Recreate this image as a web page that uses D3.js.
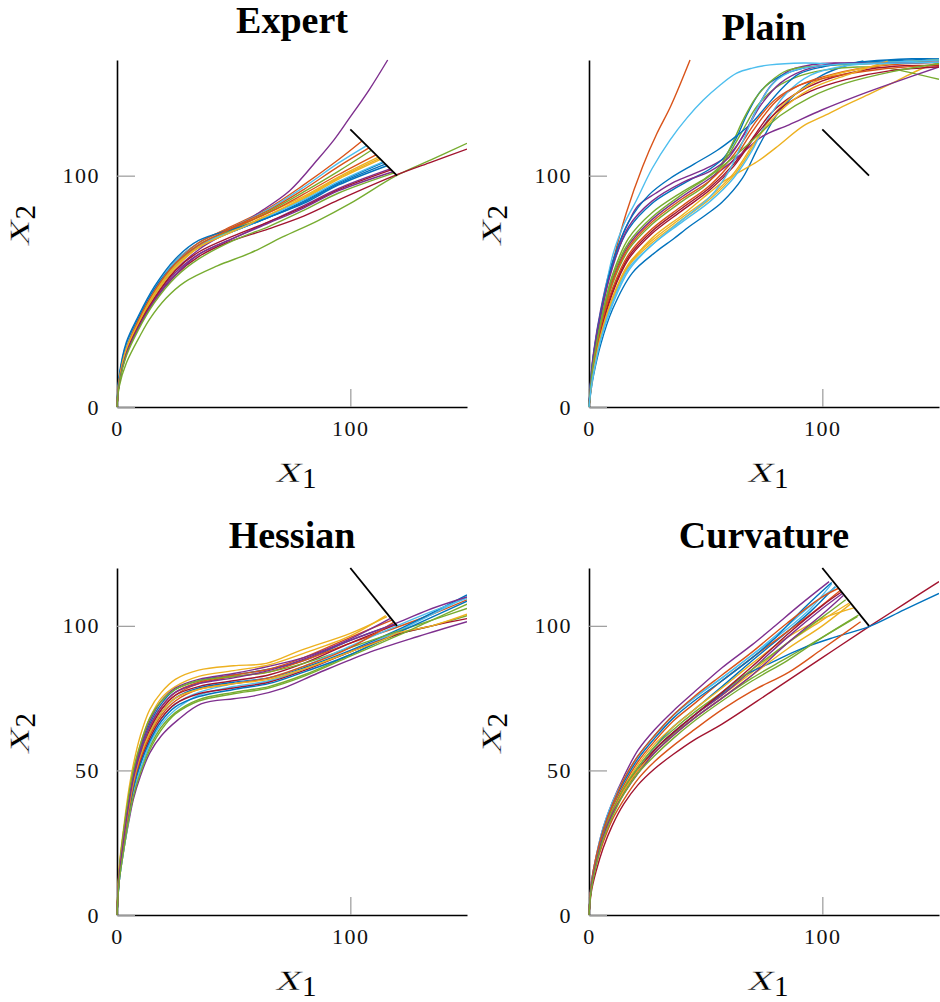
<!DOCTYPE html>
<html>
<head>
<meta charset="utf-8">
<script src="https://cdn.jsdelivr.net/npm/d3@7/dist/d3.min.js"></script>
<style>
  body { margin: 0; background: #fff; }
  text { font-family: "Liberation Serif", "Times New Roman", serif; }
</style>
</head>
<body>
<svg id="chart" width="940" height="1002"></svg>
<script>
// ---- data ----
var titles = ["Expert", "Plain", "Hessian", "Curvature"];
var xTicks = [0, 100];
var yTicksTop = [0, 100];
var yTicksBottom = [0, 50, 100];
var targetSegment = [[100, 120], [120, 100]];
var lineColors = ["#0072BD", "#D95319", "#EDB120", "#7E2F8E", "#77AC30", "#4DBEEE", "#A2142F"];

var expertRuns = [
  [[0,0],[1,12],[4,25],[9,36],[16,49],[25,61],[35,69],[50,76],[65,82],[80,89],[95,97],[114.3,105.7]],
  [[0,0],[1,13],[4,26],[9,37],[16,50],[25,63],[35,71],[50,78.5],[65,86],[80,96],[95,107],[105,115]],
  [[0,0],[1,12],[4,25],[9,36],[16,49],[25,61],[35,70],[50,77],[65,84],[80,91],[95,99.5],[112,108]],
  [[0,0],[1,11],[4,24],[9,35],[16,47],[25,59],[35,68],[43,73],[50,77],[60,83.5],[74,93.5],[86,107],[93,115.5],[99,124],[108,137],[116,150]],
  [[0,0],[1,9],[4,19],[10,31],[14,38],[21,47],[29,54],[43,61],[57,66.5],[71,73.5],[86,80.5],[100,88],[119.7,100],[135,107],[150,114]],
  [[0,0],[1,13],[4,27],[9,38],[16,51],[25,63],[35,71],[50,78],[65,85.5],[80,95],[95,105.5],[107,113]],
  [[0,0],[1,11],[4,23],[9,34],[16,46],[25,57],[35,65],[47,71],[65,77],[80,82.5],[95,89.5],[119.7,100.3],[135,106],[150,111.5]],
  [[0,0],[1,13],[4,27],[9,38],[16,51],[25,62],[35,70],[50,76],[65,82],[80,88],[95,96],[115.7,104.3]],
  [[0,0],[1,12],[4,26],[9,37],[16,50],[25,62],[35,71],[50,78],[65,85],[80,94],[95,104],[108,112]],
  [[0,0],[1,11],[4,24],[9,35],[16,48],[25,60],[35,69],[50,76.5],[65,83],[80,90],[95,98.5],[113,107]],
  [[0,0],[1,11],[4,23],[9,34],[16,46],[25,58],[35,66],[50,73],[65,80],[80,87],[95,94.5],[117.1,102.9]],
  [[0,0],[1,11],[4,24],[9,36],[16,49],[25,61],[35,70],[50,77],[65,84.5],[80,93],[95,102],[109,111]],
  [[0,0],[1,12],[4,26],[9,37],[16,50],[25,62],[35,70],[50,76],[65,82.5],[80,89.5],[95,97.5],[114,106]],
  [[0,0],[1,11],[4,24],[9,35],[16,47],[25,59],[35,67],[50,74],[65,80],[80,86.5],[95,94],[117.5,102.5]],
  [[0,0],[1,14],[4,28],[9,39],[16,52],[25,64],[35,72],[50,77],[65,82],[80,88.5],[95,96.5],[115,105]],
  [[0,0],[1,12],[4,25],[9,37],[16,50],[25,62],[35,70],[50,77.5],[65,84],[80,92],[95,100.5],[111,109]],
  [[0,0],[1,12],[4,25],[9,36],[16,49],[25,61],[35,69],[50,76],[65,83],[80,90.5],[95,99],[112.5,107.5]],
  [[0,0],[1,11],[4,23],[9,34],[16,46],[25,57],[35,66],[50,73],[65,79.5],[80,86],[95,93.5],[118.3,101.7]],
  [[0,0],[1,10],[4,22],[9,33],[16,45],[25,56],[35,64],[50,72],[65,78],[80,85],[95,92.5],[118.8,101.2]]
];

var plainRuns = [
  [[0,0],[1,8],[2,14],[5,27],[10,42],[18.6,58],[28.6,67],[36,72.5],[43,78],[50,83],[57,88.5],[65.7,98.8],[72.9,113],[81.4,127.6],[91.4,137.8],[100,143.5],[110,147.5],[117.6,149.6]],
  [[0,0],[1,13],[2,22],[5,40],[10.4,63.5],[16,84],[23,104],[29,118],[35,130],[43.3,150]],
  [[0,0],[1,10],[2,17],[5,31],[10,47],[17,61],[27,73],[40,83],[52,93],[57,97],[63.3,101],[72,106],[80,112],[91.9,121.5],[100,125.5],[110,130.5],[120.6,135.5],[132,141],[142,146],[150,149]],
  [[0,0],[1,15],[2,24],[5,42],[8.6,58],[12,68],[17,80],[21,87],[28.6,92.4],[36,97],[43,100],[52,104],[60,109],[66,117],[72,129],[78,139],[86,145.5],[100,148.5],[120,148.5],[150,150]],
  [[0,0],[1,11],[2,19],[5,34],[10,53],[17,68],[27,79],[40,89],[50,96],[58,106],[65,118],[72,130],[80,138],[90,143],[100,145.5],[115,147],[128.6,146.4],[140,144],[150,141.7]],
  [[0,0],[1,14],[2,23],[5,40],[10.4,66.4],[15,79],[20.4,89.5],[27,103],[34.7,115.4],[42,125],[49,132.7],[56,139],[63.3,144.3],[70,146.5],[77.6,147.9],[91.9,148.7],[106,148.4],[120,148.8],[134.7,149.6]],
  [[0,0],[1,10],[2,18],[5,33],[10,50],[17,65],[27,76],[40,86],[52,95],[62,105],[70,116],[78,127],[88,135],[100,141],[120,146],[135,147.5],[150,147.5]],
  [[0,0],[1,13],[2,22],[5,39],[10,61],[17,77],[27,88],[36,94],[43,98],[52,103],[58,108],[63,116],[68,127],[74,137],[82,143],[92,146.5],[105,148],[125,149.5],[150,150.5]],
  [[0,0],[1,11],[2,18],[5,34],[10,51],[17,66],[27,77],[40,87],[52,96],[62,107],[70,119],[80,132],[90,139],[105,144],[125,147.5],[150,149]],
  [[0,0],[1,9],[2,16],[5,30],[10,46],[17,61],[27,71],[40,81],[52,90],[62,100],[70,112],[78,125],[88,135],[100,142],[115,146],[130,148.5],[150,150]],
  [[0,0],[1,12],[2,20],[5,36],[10,55],[17,70],[27,81],[40,91],[52,99],[60,105],[66,110],[74.3,117],[85.7,122],[100,128.5],[115,134.5],[130,140],[150,147]],
  [[0,0],[1,12],[2,21],[5,37],[10,57],[17,73],[27,84],[40,93],[50,99],[56,104],[61,113],[66,124],[71,133],[77,140],[85,145.5],[100,147.5],[120,148.5],[150,150]],
  [[0,0],[1,9],[2,15],[5,29],[10,44],[17,59],[27,70],[40,80],[52,89],[62,99],[70,111],[77,125],[85,136],[95,143.5],[110,147.5],[130,149],[150,150]],
  [[0,0],[1,10],[2,17],[5,32],[10,49],[17,64],[27,75],[40,85],[52,94],[62,104],[72,118],[82,129],[95,136.5],[110,141.5],[130,145.5],[150,147]],
  [[0,0],[1,14],[2,23],[5,41],[10,62],[17,80],[25.7,91.7],[35,99],[45,105],[55,111],[63,117],[70,123],[76,130],[83,138],[90,144],[100,147],[120,149.5],[150,151]],
  [[0,0],[1,11],[2,19],[5,35],[10,54],[17,69],[27,80],[40,90],[52,98],[62,109],[72,124],[80,133],[90,139],[105,143],[125,146],[150,148]],
  [[0,0],[1,10],[2,16],[5,31],[10,47],[17,62],[27,72],[40,82],[52,91],[62,101],[72,116],[82,128],[95,137.5],[112,144],[128,149.5]],
  [[0,0],[1,14],[2,23],[5,40],[10,60],[17,78],[27,89],[40,97],[52,102],[60,108],[67,119],[74,131],[82,140],[92,145.5],[105,148.5],[125,148.5],[150,149]],
  [[0,0],[1,12],[2,20],[5,36],[10,56],[17,71],[27,82],[40,92],[52,100],[62,108],[72,117],[82,126],[95,134],[110,140],[130,145],[150,148.5]],
  [[0,0],[1,9],[2,15],[5,29],[10,45],[17,60],[27,70],[40,81],[52,91],[60,102],[66,115],[72,129],[79,140],[88,145.5],[105,148],[125,148.5],[150,149]]
];

var hessianRuns = [
  [[0,0],[1,15],[3,28],[5,39],[7,48],[10,57],[14,66],[19,73],[25,78],[35,81],[50,83],[65,85],[80,88],[100,95],[119,100.5]],
  [[0,0],[1,14],[3,27],[5,37],[7,46],[10,55],[14,64],[19,71],[25,76],[35,80],[50,82.5],[65,84],[80,88],[100,94],[120,99.5],[135,104],[150,109]],
  [[0,0],[1,17],[3,31],[5,43],[7,52],[10,62],[14,71],[19,77],[25,81.5],[35,84.7],[50,86.2],[64,87],[79,91.6],[100,97.4],[115.7,103.2]],
  [[0,0],[1,12],[3,23],[5,32],[7,40],[10,48],[14,56],[19,62],[26,67.4],[36,73],[50,74.8],[57,75.5],[71,78.4],[86,83.6],[107,90.5],[129,96.3],[150,101.4]],
  [[0,0],[1,13],[3,24],[5,34],[7,42],[10,50],[14,58],[19,65],[25,70],[35,74.5],[50,77],[65,79],[80,83],[100,90],[120,97],[135,100],[150,103.5]],
  [[0,0],[1,12],[3,23],[5,33],[7,42],[10,50],[14,59],[19,66],[25,71],[35,76],[50,79],[65,81],[80,85],[100,91],[120,98],[135,104],[150,110]],
  [[0,0],[1,14],[3,27],[5,37],[7,46],[10,55],[14,64],[19,71],[25,76],[35,79],[50,81],[65,83],[80,87],[100,94],[119.3,100.3]],
  [[0,0],[1,14],[3,26],[5,36],[7,45],[10,54],[14,63],[19,70],[25,75],[35,78.5],[50,80.5],[65,82],[80,85.5],[100,91.5],[120,98.5],[135,104.5],[150,110.7]],
  [[0,0],[1,15],[3,28],[5,38],[7,47],[10,56],[14,65],[19,72],[25,77],[35,80.5],[50,83],[65,85],[80,89],[100,96],[117.8,102]],
  [[0,0],[1,16],[3,30],[5,41],[7,50],[10,59],[14,68],[19,75],[25,79],[35,82.5],[50,84.5],[65,86.5],[80,90.5],[100,96.5],[115.2,103.5]],
  [[0,0],[1,15],[3,29],[5,40],[7,49],[10,58],[14,67],[19,74],[25,78.5],[35,81.5],[50,83.5],[65,86],[80,89],[100,95.5],[117,102.5]],
  [[0,0],[1,16],[3,30],[5,41],[7,50],[10,59],[14,68],[19,74],[25,78],[35,81],[50,82.5],[65,84],[80,87],[100,92.5],[120,98],[135,102],[150,106]],
  [[0,0],[1,12],[3,24],[5,34],[7,43],[10,52],[14,61],[19,68],[25,73],[35,77],[50,80],[65,82],[80,86],[100,93],[120,100],[135,105],[150,109.5]],
  [[0,0],[1,13],[3,25],[5,35],[7,44],[10,53],[14,61],[19,68],[25,73],[35,76.5],[50,78.5],[65,80.5],[80,84.5],[100,91],[120,97],[135,100],[150,102.5]],
  [[0,0],[1,13],[3,25],[5,35],[7,44],[10,52],[14,60],[19,67],[25,72],[35,75.5],[50,78],[65,80],[80,84],[100,90],[120,97.5],[135,103],[150,108.5]],
  [[0,0],[1,14],[3,26],[5,36],[7,45],[10,54],[14,62],[19,69],[25,74],[35,78],[50,80],[65,82],[80,86],[100,92.5],[118.5,101.2]],
  [[0,0],[1,14],[3,27],[5,37],[7,46],[10,55],[14,63],[19,70],[25,75],[35,78],[50,80],[65,81.5],[80,85],[100,91],[115,95.5],[120,97.5],[135,100],[150,104]],
  [[0,0],[1,14],[3,27],[5,38],[7,47],[10,56],[14,65],[19,72],[25,77],[35,80],[50,82],[65,84.5],[80,88.5],[100,95],[120,101],[135,106],[150,110]],
  [[0,0],[1,12],[3,23],[5,33],[7,41],[10,49],[14,57],[19,64],[25,69.5],[35,74],[50,76.5],[65,78.5],[80,82.5],[100,89.5],[120,96.5],[135,102],[150,107.5]]
];

var curvatureRuns = [
  [[0,0],[1,10],[3,18],[6,27],[10,35],[15,43],[21,51],[28,58],[36,65],[45,71],[57,79],[70,88],[85,98],[95,105],[105.5,113.5]],
  [[0,0],[1,10],[3,19],[6,28],[10,37],[15,45],[21,53],[28,60],[36,67],[45,73],[57,81],[70,89],[85,98],[95,104],[107.9,112.4]],
  [[0,0],[1,10],[3,18],[6,27],[10,35],[15,43],[21,50],[28,57],[36,63],[45,69],[57,76],[70,84],[85,94],[100,102],[111.4,107.8]],
  [[0,0],[1,11],[3,20],[6,30],[10,39],[15,48],[21,57],[28,64],[36,70.5],[45,77],[57,85.5],[70,93.5],[79,99.5],[90,107],[102.9,115.3]],
  [[0,0],[1,10],[3,18],[6,27],[10,35],[15,43],[21,50],[28,56],[36,62.5],[45,68],[57,75],[70,82],[85,89],[100,96],[115,103.2]],
  [[0,0],[1,10],[3,19],[6,29],[10,38],[15,47],[21,55],[28,62],[36,69],[45,75],[57,82],[70,90],[85,99],[95,106],[104,114.5]],
  [[0,0],[1,8],[3,15],[6,23],[10,31],[15,38.5],[21,45],[28,50.5],[36,55.5],[45,60.5],[57,66],[78.6,77.5],[100,89],[120,99.7],[135,107.5],[150,115.3]],
  [[0,0],[1,10],[3,18],[6,27],[10,35],[15,43],[21,50],[28,57],[36,63],[45,69],[57,76.5],[66,82.5],[80,88],[91.4,92.2],[105,96],[120,99.7],[135,105.5],[150,111.2]],
  [[0,0],[1,9],[3,17],[6,25],[10,33],[15,40],[21,47],[28,53],[36,58.5],[45,64],[57,71],[70,77.5],[85.7,84],[100,92],[116.4,101.4]],
  [[0,0],[1,10],[3,19],[6,28],[10,36],[15,44],[21,52],[28,59],[36,65],[45,71],[57,78.5],[70,87],[85,96],[100,102.5],[113.5,106.2]],
  [[0,0],[1,10],[3,18],[6,27],[10,35],[15,43],[21,50],[28,57],[36,63],[45,69],[57,76],[70,85],[85,96],[100,106],[108.6,111.2]],
  [[0,0],[1,10],[3,19],[6,28],[10,36],[15,44],[21,51],[28,58],[36,64],[45,70],[57,77],[70,85],[85,94],[100,103],[110,109]],
  [[0,0],[1,11],[3,20],[6,30],[10,39],[15,47],[21,55],[28,62],[36,69],[45,75],[57,82],[70,90],[85,100],[95,107],[106,113.5]],
  [[0,0],[1,10],[3,18],[6,27],[10,35],[15,43],[21,50],[28,57],[36,63],[45,69],[57,77],[70,86],[85,97],[100,107],[108,111.6]],
  [[0,0],[1,10],[3,19],[6,29],[10,38],[15,46],[21,54],[28,61],[36,68],[45,74],[57,81],[70,89],[80,96],[92,106],[104,115]],
  [[0,0],[1,11],[3,20],[6,29],[10,38],[15,47],[21,55],[28,62],[36,69],[45,75.5],[57,83],[70,91],[85,101],[100,110],[107,113]],
  [[0,0],[1,10],[3,18],[6,27],[10,35],[15,43],[21,50],[28,56],[36,62],[45,68],[57,75],[70,83],[85,92],[100,100],[112,107.5]],
  [[0,0],[1,10],[3,18],[6,27],[10,35],[15,42],[21,49],[28,56],[36,62],[45,68],[57,75],[70,83],[85,94],[100,104],[109,110.5]],
  [[0,0],[1,9],[3,17],[6,26],[10,34],[15,42],[21,49],[28,55],[36,61],[45,67],[57,74],[70,81],[85,88],[100,96],[115.5,103.7]]
];

// ---- layout ----
var panels = [
  { title: titles[0], runs: expertRuns,    left: 117, top: 60,  yMax: 150, yTicks: yTicksTop,    titleY: 33 },
  { title: titles[1], runs: plainRuns,     left: 589, top: 60,  yMax: 150, yTicks: yTicksTop,    titleY: 40 },
  { title: titles[2], runs: hessianRuns,   left: 117, top: 568, yMax: 120, yTicks: yTicksBottom, titleY: 548 },
  { title: titles[3], runs: curvatureRuns, left: 589, top: 568, yMax: 120, yTicks: yTicksBottom, titleY: 548 }
];
var width = 350, height = 347;

var svg = d3.select("#chart");

// math-style label: wide slanted serif x plus upright subscript
function mathLabel(parent, transform, sub, offset) {
  var lab = parent.append("g").attr("transform", transform);
  lab.append("text")
    .attr("text-anchor", "end")
    .attr("transform", "translate(" + offset + ",0) skewX(-14) scale(1.25,1)")
    .attr("stroke", "#fff")
    .attr("stroke-width", 0.45)
    .style("font-size", "40px")
    .text("x");
  lab.append("text")
    .attr("x", offset + 2)
    .attr("y", 6)
    .style("font-size", "29px")
    .text(sub);
}

panels.forEach(function(p, i) {
  var x = d3.scaleLinear().domain([0, 150]).range([0, width]);
  var y = d3.scaleLinear().domain([0, p.yMax]).range([height, 0]);

  var g = svg.append("g").attr("transform", "translate(" + p.left + "," + p.top + ")");

  g.append("clipPath").attr("id", "clip" + i)
    .append("rect").attr("x", -2).attr("y", -2).attr("width", width + 2).attr("height", height + 4);

  // x axis first so the y axis' zero tick sits over it
  var gx = g.append("g")
    .attr("transform", "translate(0," + height + ")")
    .call(d3.axisBottom(x).tickValues(xTicks).tickSizeInner(-18).tickSizeOuter(0).tickPadding(13));
  var gy = g.append("g")
    .call(d3.axisLeft(y).tickValues(p.yTicks).tickSizeInner(-18).tickSizeOuter(0).tickPadding(17));

  [gx, gy].forEach(function(ax) {
    ax.select(".domain").attr("stroke", "#000").attr("stroke-width", 1.6);
    ax.selectAll(".tick line").attr("stroke", "#9a9a9a").attr("stroke-width", 1.2);
    ax.selectAll(".tick text")
      .style("font-family", "'Liberation Serif', serif")
      .style("font-size", "22px")
      .style("letter-spacing", "1.5px")
      .attr("fill", "#111");
  });

  var line = d3.line()
    .x(function(d) { return x(d[0]); })
    .y(function(d) { return y(d[1]); })
    .curve(d3.curveCatmullRom.alpha(0.5));

  var plot = g.append("g").attr("clip-path", "url(#clip" + i + ")");
  plot.selectAll(".run")
    .data(p.runs)
    .enter().append("path")
    .attr("class", "run")
    .attr("d", line)
    .attr("fill", "none")
    .attr("stroke", function(d, k) { return lineColors[k % lineColors.length]; })
    .attr("stroke-width", 1.4);

  g.append("path")
    .datum(targetSegment)
    .attr("d", d3.line().x(function(d) { return x(d[0]); }).y(function(d) { return y(d[1]); }))
    .attr("fill", "none")
    .attr("stroke", "#000")
    .attr("stroke-width", 1.8);

  // title
  svg.append("text")
    .attr("x", p.left + width / 2)
    .attr("y", p.titleY)
    .attr("text-anchor", "middle")
    .style("font-weight", "bold")
    .style("font-size", "38px")
    .text(p.title);

  mathLabel(g, "translate(" + (width / 2) + ",422)", "1", 8);
  mathLabel(g, "translate(-88," + (height / 2) + ") rotate(-90)", "2", 12);
});
</script>
</body>
</html>
